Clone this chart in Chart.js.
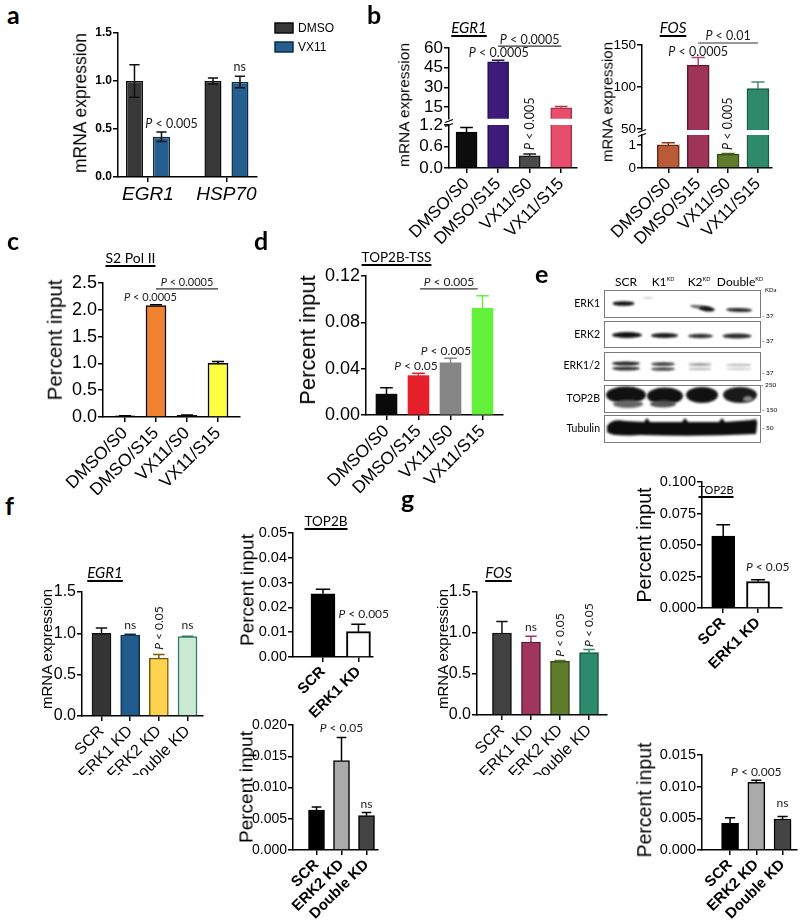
<!DOCTYPE html>
<html>
<head>
<meta charset="utf-8">
<script src="https://cdn.jsdelivr.net/npm/chart.js@4.4.1/dist/chart.umd.min.js"></script>
<style>
  html, body { margin: 0; padding: 0; background: #fff; }
  #fig { position: relative; width: 800px; height: 924px; overflow: hidden; background: #fff; }
  #fig canvas { position: absolute; }
  .t { position: absolute; white-space: nowrap; line-height: 1; color: #000; }
  .t sup { font-size: 5.5px; vertical-align: 5px; line-height: 0; }
</style>
</head>
<body>
<div id="fig"></div>
<script>
// ---- DATA ----
const aGenes = ["EGR1", "HSP70"];
const aDmso = [1.0, 1.0];
const aDmsoErr = [0.17, 0.03];
const aVx11 = [0.42, 0.99];
const aVx11Err = [0.05, 0.06];
const aTicks = [0, 0.5, 1.0, 1.5];

const bConds = ["DMSO/S0", "DMSO/S15", "VX11/S0", "VX11/S15"];
const bEgr1 = [1.0, 49.5, 0.34, 14.5];
const bEgr1Err = [0.13, 1.2, 0.05, 1.0];
const bEgr1TicksHi = [15, 30, 45, 60];
const bEgr1TicksLo = [0, 0.6, 1.2];
const bFos = [1.0, 126, 0.6, 98];
const bFosErr = [0.09, 9, 0.03, 8];
const bFosTicksHi = [50, 100, 150];
const bFosTicksLo = [0, 1];

const cPol2 = [0.02, 2.08, 0.03, 1.0];
const cPol2Err = [0.005, 0.012, 0.008, 0.035];
const cTicks = [0, 0.5, 1.0, 1.5, 2.0, 2.5];

const dTop2b = [0.018, 0.034, 0.045, 0.092];
const dTop2bErr = [0.0055, 0.002, 0.004, 0.011];
const dTicks = [0, 0.04, 0.08, 0.12];

const kdConds = ["SCR", "ERK1 KD", "ERK2 KD", "Double KD"];
const pairConds = ["SCR", "ERK1 KD"];
const trioConds = ["SCR", "ERK2 KD", "Double KD"];
const mrnaTicks = [0, 0.5, 1.0, 1.5];

const fEgr1 = [1.0, 0.98, 0.70, 0.96];
const fEgr1Err = [0.065, 0.01, 0.045, 0.005];
const fTop2bK1 = [0.0255, 0.0102];
const fTop2bK1Err = [0.0018, 0.003];
const fTop2bK1Ticks = [0, 0.01, 0.02, 0.03, 0.04, 0.05];
const fTop2bK2 = [0.0064, 0.0143, 0.0055];
const fTop2bK2Err = [0.0005, 0.0037, 0.0005];
const fTop2bK2Ticks = [0, 0.005, 0.010, 0.015, 0.020];

const gFos = [1.0, 0.89, 0.655, 0.76];
const gFosErr = [0.14, 0.07, 0.01, 0.04];
const gTop2bK1 = [0.057, 0.021];
const gTop2bK1Err = [0.009, 0.0015];
const gTop2bK1Ticks = [0, 0.025, 0.050, 0.075, 0.100];
const gTop2bK2 = [0.0042, 0.0107, 0.0049];
const gTop2bK2Err = [0.0009, 0.0003, 0.0004];
const gTop2bK2Ticks = [0, 0.005, 0.010, 0.015];

const blotLanes = ["SCR", "K1", "K2", "Double"];
const blotRows = ["ERK1", "ERK2", "ERK1/2", "TOP2B", "Tubulin"];

// ---- SETUP ----
Chart.defaults.font.family = "'Liberation Sans', Arial, sans-serif";
Chart.defaults.color = '#000';
const fig = document.getElementById('fig');

// text with italic "P"
function pText(ctx, s, x, y, size, align) {
  const parts = s.startsWith('P ') ? [['italic ', 'P'], ['', s.slice(1)]] : [['', s]];
  let w = 0;
  parts.forEach(p => { ctx.font = p[0] + size + 'px Lato'; p.w = ctx.measureText(p[1]).width; w += p.w; });
  let cx = align === 'center' ? x - w / 2 : x;
  ctx.textAlign = 'left';
  parts.forEach(p => { ctx.font = p[0] + size + 'px Lato'; ctx.fillText(p[1], cx, y); cx += p.w; });
}

// error bars, p-values, axis breaks, legend
const extras = {
  id: 'extras',
  afterDatasetsDraw(chart) {
    const o = chart.options.plugins.extras || {};
    const ctx = chart.ctx, a = chart.chartArea, xs = chart.scales.x, ys = chart.scales.y;

    ctx.save();
    ctx.beginPath();
    ctx.rect(a.left - 20, a.top - 1, a.right - a.left + 40, a.bottom - a.top + 1);
    ctx.clip();
    chart.data.datasets.forEach((ds, k) => {
      const meta = chart.getDatasetMeta(k);
      meta.data.forEach((bar, i) => {
        const v = ds.data[i].y, e = ds.errs[i];
        const col = Array.isArray(ds.errColor) ? ds.errColor[i] : ds.errColor;
        const yt = ys.getPixelForValue(v + e);
        const yb = ys.getPixelForValue(o.both ? v - e : v);
        const hw = bar.width * 0.3;
        ctx.strokeStyle = col;
        ctx.lineWidth = 1.5;
        ctx.beginPath();
        ctx.moveTo(bar.x, yb); ctx.lineTo(bar.x, yt);
        ctx.moveTo(bar.x - hw, yt); ctx.lineTo(bar.x + hw, yt);
        if (o.both) { ctx.moveTo(bar.x - hw, yb); ctx.lineTo(bar.x + hw, yb); }
        ctx.stroke();
      });
    });
    ctx.restore();

    ctx.save();
    ctx.fillStyle = '#1a1a1a';
    (o.notes || []).forEach(n => {
      const x = xs.getPixelForValue(n.x), y = ys.getPixelForValue(n.y);
      ctx.save();
      ctx.translate(x, y);
      if (n.rot) {
        ctx.rotate(-Math.PI / 2);
        ctx.textBaseline = 'middle';
        pText(ctx, n.text, 0, 0, o.noteSize, 'left');
      } else {
        ctx.textBaseline = 'alphabetic';
        pText(ctx, n.text, 0, 0, o.noteSize, 'center');
      }
      ctx.restore();
    });
    (o.brackets || []).forEach(b => {
      const x1 = xs.getPixelForValue(b.from), x2 = xs.getPixelForValue(b.to), y = ys.getPixelForValue(b.y);
      ctx.strokeStyle = '#333';
      ctx.lineWidth = 1.2;
      ctx.beginPath(); ctx.moveTo(x1, y); ctx.lineTo(x2, y); ctx.stroke();
      ctx.textBaseline = 'alphabetic';
      pText(ctx, b.text, (x1 + x2) / 2, y - 2.5, o.noteSize, 'center');
    });

    if (o.brk) {
      ctx.strokeStyle = '#000';
      ctx.lineWidth = 1.3;
      ctx.beginPath();
      ctx.moveTo(a.left - 4, a.top + 1.5); ctx.lineTo(a.left + 4, a.top - 1.5);
      ctx.moveTo(a.left - 4, a.top - 2.5); ctx.lineTo(a.left + 4, a.top - 5.5);
      ctx.stroke();
    }

    if (o.legend) {
      chart.data.datasets.forEach((ds, k) => {
        const x = o.legend.x, y = o.legend.y + k * o.legend.gap;
        ctx.fillStyle = ds.backgroundColor;
        ctx.fillRect(x, y, 18, 10);
        ctx.strokeStyle = ds.borderColor;
        ctx.lineWidth = 1.5;
        ctx.strokeRect(x, y, 18, 10);
        ctx.fillStyle = '#000';
        ctx.font = "12px 'Liberation Sans'";
        ctx.textAlign = 'left';
        ctx.textBaseline = 'middle';
        ctx.fillText(ds.label, x + 23, y + 5.5);
      });
    }
    ctx.restore();
  }
};

function barChart(o) {
  const [L, T, W, H] = o.box, [x0, y0, x1, y1] = o.area;
  const cv = document.createElement('canvas');
  cv.width = W; cv.height = H;
  cv.style.left = L + 'px';
  cv.style.top = T + 'px';
  fig.appendChild(cv);
  if (o.extras.legend) { o.extras.legend.x -= L; o.extras.legend.y -= T; }

  const tickLine = { drawOnChartArea: false, drawTicks: true, tickLength: 5, color: '#000', lineWidth: 1.5, offset: false };
  const sets = o.sets.map(s => ({
    label: s.label,
    data: s.values.map((v, i) => ({ x: i, y: v })),
    errs: s.errs,
    backgroundColor: s.fill,
    borderColor: s.line,
    borderWidth: s.lw === undefined ? 1.5 : s.lw,
    errColor: s.err || s.line,
    borderSkipped: 'start',
    clip: 0,
    barThickness: o.barW,
    categoryPercentage: o.cat || 0.8,
    barPercentage: o.bar || 0.9
  }));

  return new Chart(cv, {
    type: 'bar',
    data: { datasets: sets },
    options: {
      responsive: false,
      animation: false,
      devicePixelRatio: 1,
      layout: { padding: { left: 0, top: y0 - T, right: L + W - x1, bottom: o.hideX ? T + H - y1 : 0 } },
      scales: {
        x: {
          type: 'linear', display: !o.hideX, min: o.xmin, max: o.xmax, offset: false,
          afterBuildTicks: s => { s.ticks = o.labels.map((_, i) => ({ value: i })); },
          afterFit: s => { if (!o.hideX) s.height = T + H - y1; },
          grid: tickLine,
          border: { color: '#000', width: 1.5 },
          ticks: { autoSkip: false, minRotation: o.rot, maxRotation: o.rot, padding: 1, font: o.xFont, color: '#000',
                   callback: v => o.labels[v] }
        },
        y: {
          min: o.ymin, max: o.ymax,
          afterBuildTicks: s => { s.ticks = o.yTicks.map(v => ({ value: v })); },
          afterFit: s => { s.width = x0 - L; },
          grid: tickLine,
          border: { color: '#000', width: 1.5 },
          ticks: { autoSkip: false, padding: 1, font: o.yFont, color: '#000', callback: o.fmt }
        }
      },
      plugins: { legend: { display: false }, tooltip: { enabled: false }, extras: o.extras }
    },
    plugins: [extras]
  });
}

// ---- HTML TEXT ----
function txt(s, x, base, size, fam, extra, anchor) {
  const d = document.createElement('div');
  d.className = 't';
  d.innerHTML = s;
  const k = fam === 'Lato' ? 0.887 : 0.846;
  d.style.left = x + 'px';
  d.style.top = (base - k * size) + 'px';
  d.style.fontSize = size + 'px';
  d.style.fontFamily = fam;
  if (extra) d.style.cssText += extra;
  if (anchor === 'c') d.style.transform = 'translateX(-50%)';
  if (anchor === 'r') d.style.transform = 'translateX(-100%)';
  fig.appendChild(d);
}
function ytitle(s, cx, cy, size) {
  const d = document.createElement('div');
  d.className = 't';
  d.textContent = s;
  d.style.cssText += `left:${cx}px;top:${cy}px;font-size:${size}px;font-family:'Liberation Sans';` +
    'transform:translate(-50%,-50%) rotate(-90deg)';
  fig.appendChild(d);
}
const UL = 'text-decoration:underline;text-decoration-thickness:1.5px;text-underline-offset:2px;';

// ---- PANEL a ----
barChart({
  box: [60, 8, 300, 200], area: [118, 33, 257, 177],
  labels: aGenes, xmin: -0.382, xmax: 1.389, rot: 0,
  xFont: { size: 19, style: 'italic' }, yFont: { size: 12, weight: 'bold' },
  ymin: 0, ymax: 1.5, yTicks: aTicks, fmt: v => v.toFixed(1),
  cat: 0.688, bar: 0.63,
  sets: [
    { label: 'DMSO', values: aDmso, errs: aDmsoErr, fill: '#383838', line: '#0b0b0b', err: '#111' },
    { label: 'VX11', values: aVx11, errs: aVx11Err, fill: '#245f8f', line: '#0f2c47', err: '#111' }
  ],
  extras: { both: true, noteSize: 12.5,
    notes: [{ x: 0.3, y: 0.51, text: 'P < 0.005' }, { x: 1.17, y: 1.10, text: 'ns' }],
    legend: { x: 275, y: 23, gap: 19 } }
});
ytitle('mRNA expression', 80.5, 103, 17.5);

// ---- PANEL b ----
const bEgr1Base = {
  labels: bConds, xmin: -0.556, xmax: 3.5, rot: 45, barW: 21,
  xFont: { size: 17 }, yFont: { size: 17 },
  sets: [{ values: bEgr1, errs: bEgr1Err,
    fill: ['#0d0d0d', '#3c1b7a', '#4a4a4a', '#e94d6c'],
    line: ['#000', '#22104a', '#1a1a1a', '#b0304a'] }]
};
barChart({ ...bEgr1Base, box: [390, 18, 200, 112], area: [449, 48, 577, 121], hideX: true,
  ymin: 6.15, ymax: 60, yTicks: bEgr1TicksHi, fmt: v => v,
  extras: { noteSize: 12.5,
    brackets: [{ from: 1, to: 3, y: 61.5, text: 'P < 0.0005' }],
    notes: [{ x: 1.02, y: 53, text: 'P < 0.0005' }] } });
barChart({ ...bEgr1Base, box: [390, 90, 200, 155], area: [449, 125, 577, 168],
  ymin: 0, ymax: 1.2, yTicks: bEgr1TicksLo, fmt: v => v.toFixed(1),
  extras: { noteSize: 12.5, brk: true, notes: [{ x: 2, y: 0.5, text: 'P < 0.005', rot: true }] } });
ytitle('mRNA expression', 404, 105, 15.5);
txt('EGR1', 469, 33, 15, 'Lato', UL + 'font-style:italic;', 'c');

const bFosBase = {
  labels: bConds, xmin: -0.88, xmax: 3.47, rot: 45, barW: 22,
  xFont: { size: 17 }, yFont: { size: 13.5 },
  sets: [{ values: bFos, errs: bFosErr,
    fill: ['#b95b36', '#9e3559', '#5e7c29', '#2f8a6b'],
    line: ['#6a2e18', '#5e1a32', '#33491a', '#175a43'],
    err: ['#8a3a20', '#b04a70', '#4a6a20', '#4a8a78'] }]
};
barChart({ ...bFosBase, box: [595, 18, 195, 122], area: [642, 45, 772, 130], hideX: true,
  ymin: 48.8, ymax: 150, yTicks: bFosTicksHi, fmt: v => v,
  extras: { noteSize: 12.5,
    brackets: [{ from: 1, to: 3, y: 152.4, text: 'P < 0.01' }],
    notes: [{ x: 1, y: 137, text: 'P < 0.0005' }] } });
barChart({ ...bFosBase, box: [595, 90, 195, 155], area: [642, 135, 772, 168],
  ymin: 0, ymax: 1.43, yTicks: bFosTicksLo, fmt: v => v,
  extras: { noteSize: 12.5, brk: true, notes: [{ x: 2, y: 0.78, text: 'P < 0.005', rot: true }] } });
ytitle('mRNA expression', 607, 102, 15);
txt('FOS', 673, 33, 15, 'Lato', UL + 'font-style:italic;', 'c');

// ---- PANEL c ----
barChart({
  box: [40, 265, 220, 230], area: [103, 283, 240, 417],
  labels: bConds, xmin: -0.71, xmax: 3.71, rot: 45, barW: 20,
  xFont: { size: 17.5 }, yFont: { size: 18 },
  ymin: 0, ymax: 2.5, yTicks: cTicks, fmt: v => v.toFixed(1),
  sets: [{ values: cPol2, errs: cPol2Err, fill: ['#111', '#f08232', '#333', '#ffff44'], line: '#000' }],
  extras: { noteSize: 11,
    brackets: [{ from: 1, to: 3, y: 2.39, text: 'P < 0.0005' }],
    notes: [{ x: 0.82, y: 2.16, text: 'P < 0.0005' }] }
});
ytitle('Percent input', 55, 340, 20.5);
txt('S2 Pol II', 130.5, 263, 14, 'Lato', UL, 'c');

// ---- PANEL d ----
barChart({
  box: [300, 255, 220, 240], area: [366, 276, 503, 415],
  labels: bConds, xmin: -0.64, xmax: 3.64, rot: 45, barW: 21,
  xFont: { size: 17.5 }, yFont: { size: 18 },
  ymin: 0, ymax: 0.12, yTicks: dTicks, fmt: v => v.toFixed(2),
  sets: [{ values: dTop2b, errs: dTop2bErr, fill: ['#0a0a0a', '#e6202a', '#858585', '#62f03a'],
    line: ['#0a0a0a', '#e6202a', '#858585', '#62f03a'], lw: 0 }],
  extras: { noteSize: 12,
    brackets: [{ from: 1.05, to: 2.85, y: 0.1088, text: 'P < 0.005' }],
    notes: [{ x: 1.86, y: 0.052, text: 'P < 0.005' }, { x: 0.92, y: 0.039, text: 'P < 0.05' }] }
});
ytitle('Percent input', 308, 340, 22);
txt('TOP2B-TSS', 396.5, 263, 13.5, 'Lato', UL, 'c');

// ---- PANEL f ----
barChart({
  box: [30, 575, 190, 200], area: [82, 592, 203, 716],
  labels: kdConds, xmin: -0.68, xmax: 3.54, rot: 45, barW: 19,
  xFont: { size: 16 }, yFont: { size: 16 },
  ymin: 0, ymax: 1.5, yTicks: mrnaTicks, fmt: v => v.toFixed(1),
  sets: [{ values: fEgr1, errs: fEgr1Err,
    fill: ['#353535', '#215c8e', '#ffd34e', '#c9e9d3'],
    line: ['#111', '#11304d', '#7a5a10', '#2e7a62'] }],
  extras: { noteSize: 12,
    notes: [{ x: 1, y: 1.05, text: 'ns' }, { x: 3, y: 1.05, text: 'ns' }, { x: 2, y: 0.8, text: 'P < 0.05', rot: true }] }
});
ytitle('mRNA expression', 46, 649, 15);
txt('EGR1', 105, 578, 15, 'Lato', UL + 'font-style:italic;', 'c');

barChart({
  box: [215, 515, 180, 210], area: [293, 533, 373, 657],
  labels: pairConds, xmin: -0.845, xmax: 1.41, rot: 45, barW: 24,
  xFont: { size: 15, weight: 'bold' }, yFont: { size: 14.5 },
  ymin: 0, ymax: 0.05, yTicks: fTop2bK1Ticks, fmt: v => v.toFixed(2),
  sets: [{ values: fTop2bK1, errs: fTop2bK1Err, fill: ['#000', '#fff'], line: '#000', lw: 2 }],
  extras: { noteSize: 12, notes: [{ x: 1.15, y: 0.0157, text: 'P < 0.005' }] }
});
ytitle('Percent input', 247, 590, 19);
txt('TOP2B', 326, 527, 13.5, 'Lato', UL, 'c');

barChart({
  box: [215, 705, 180, 219], area: [293, 725, 378, 850],
  labels: trioConds, xmin: -0.94, xmax: 2.46, rot: 45, barW: 16,
  xFont: { size: 15, weight: 'bold' }, yFont: { size: 14 },
  ymin: 0, ymax: 0.02, yTicks: fTop2bK2Ticks, fmt: v => v.toFixed(3),
  sets: [{ values: fTop2bK2, errs: fTop2bK2Err, fill: ['#000', '#aaaaaa', '#444'], line: '#000' }],
  extras: { noteSize: 12, notes: [{ x: 1, y: 0.0189, text: 'P < 0.05' }, { x: 2, y: 0.0067, text: 'ns' }] }
});
ytitle('Percent input', 246, 787, 19);

// ---- PANEL g ----
barChart({
  box: [425, 575, 195, 200], area: [477, 592, 607, 715],
  labels: kdConds, xmin: -0.86, xmax: 3.62, rot: 45, barW: 19,
  xFont: { size: 16 }, yFont: { size: 16 },
  ymin: 0, ymax: 1.5, yTicks: mrnaTicks, fmt: v => v.toFixed(1),
  sets: [{ values: gFos, errs: gFosErr,
    fill: ['#424242', '#a0365e', '#5e7c2a', '#2e8a6c'],
    line: ['#111', '#5a1a34', '#34481a', '#155a42'],
    err: ['#111', '#a0365e', '#5e7c2a', '#2e8a6c'] }],
  extras: { noteSize: 12,
    notes: [{ x: 1, y: 1.02, text: 'ns' }, { x: 2, y: 0.71, text: 'P < 0.05', rot: true }, { x: 3, y: 0.83, text: 'P < 0.05', rot: true }] }
});
ytitle('mRNA expression', 442, 649, 15);
txt('FOS', 498.5, 578, 15, 'Lato', UL + 'font-style:italic;', 'c');

barChart({
  box: [612, 465, 183, 215], area: [702, 482, 782, 608],
  labels: pairConds, xmin: -0.61, xmax: 1.69, rot: 45, barW: 23,
  xFont: { size: 15, weight: 'bold' }, yFont: { size: 14.5 },
  ymin: 0, ymax: 0.1, yTicks: gTop2bK1Ticks, fmt: v => v.toFixed(3),
  sets: [{ values: gTop2bK1, errs: gTop2bK1Err, fill: ['#000', '#fff'], line: '#000', lw: 2 }],
  extras: { noteSize: 12, notes: [{ x: 1.28, y: 0.029, text: 'P < 0.05' }] }
});
ytitle('Percent input', 645, 545, 19.5);
txt('TOP2B', 716, 494, 11, 'Lato', UL, 'c');

barChart({
  box: [612, 735, 188, 189], area: [702, 755, 797, 850],
  labels: trioConds, xmin: -1.07, xmax: 2.55, rot: 45, barW: 17,
  xFont: { size: 15, weight: 'bold' }, yFont: { size: 14.5 },
  ymin: 0, ymax: 0.015, yTicks: gTop2bK2Ticks, fmt: v => v.toFixed(3),
  sets: [{ values: gTop2bK2, errs: gTop2bK2Err, fill: ['#000', '#aaaaaa', '#444'], line: '#000' }],
  extras: { noteSize: 12, notes: [{ x: 1, y: 0.0117, text: 'P < 0.005' }, { x: 2, y: 0.0068, text: 'ns' }] }
});
ytitle('Percent input', 645, 800, 19.5);

// ---- PANEL e (western blot, plain canvas) ----
(function blot() {
  const cv = document.createElement('canvas');
  cv.width = 260; cv.height = 180;
  cv.style.left = '540px'; cv.style.top = '268px';
  fig.appendChild(cv);
  const g = cv.getContext('2d');
  g.translate(-540, -268);
  const frames = [[290, 317], [321, 347], [352, 380], [385, 412], [415, 442]];
  g.strokeStyle = '#7a7a7a';
  g.lineWidth = 1;
  frames.forEach(([a, b]) => g.strokeRect(604.5, a + 0.5, 156, b - a));
  g.filter = 'blur(1px)';
  function band(cx, cy, rx, ry, col, rot) {
    g.fillStyle = col;
    g.beginPath();
    g.ellipse(cx, cy, rx, ry, rot || 0, 0, Math.PI * 2);
    g.fill();
  }
  // ERK1
  band(623.5, 303.5, 11, 2.3, '#111');
  band(648, 298, 5, 1.4, '#ddd');
  band(700, 307, 10, 1.8, '#666', 0.1);
  band(707, 309, 8, 2.4, '#111', 0.1);
  band(739, 310, 13, 2, '#2a2a2a', 0.03);
  // ERK2
  band(627, 335, 15, 3, '#111');
  band(664.5, 335.5, 13.5, 2.6, '#1a1a1a');
  band(700.5, 336, 12.5, 2.2, '#333');
  band(737, 336, 14.5, 2.5, '#2a2a2a');
  // ERK1/2
  band(626, 363.5, 14, 2, '#222'); band(626, 368.5, 14, 2, '#333');
  band(663, 364, 12, 1.8, '#333'); band(663, 369, 12, 1.8, '#444');
  band(700, 364.5, 12, 1.5, '#999'); band(700, 369, 12, 1.3, '#bbb');
  band(739, 365, 13, 1.3, '#bbb'); band(739, 369, 13, 1.2, '#ccc');
  // TOP2B
  band(626, 395, 20, 8.5, '#111'); band(628, 404, 15, 4, '#666');
  band(665, 396, 18, 8.5, '#111'); band(663, 404, 13, 3.5, '#555');
  band(702, 395, 16, 8, '#111');
  band(740, 395, 17, 8, '#1a1a1a'); band(748, 399, 5, 3, '#888');
  // Tubulin
  g.fillStyle = '#0d0d0d';
  g.beginPath();
  g.moveTo(607, 426);
  g.quadraticCurveTo(612, 418, 625, 421);
  g.lineTo(644, 422); g.lineTo(647, 418); g.lineTo(650, 422);
  g.lineTo(682, 422); g.lineTo(685, 418); g.lineTo(688, 422);
  g.lineTo(719, 422); g.lineTo(722, 418); g.lineTo(725, 422);
  g.lineTo(752, 420); g.quadraticCurveTo(758, 417, 757, 425);
  g.lineTo(756, 434); g.quadraticCurveTo(700, 437, 640, 435);
  g.quadraticCurveTo(612, 437, 607, 432);
  g.closePath();
  g.fill();
  g.filter = 'none';
})();

txt(blotLanes[0], 626, 287, 12, 'Lato', '', 'c');
txt(blotLanes[1] + '<sup>KD</sup>', 663, 287, 12, 'Lato', '', 'c');
txt(blotLanes[2] + '<sup>KD</sup>', 699, 287, 12, 'Lato', '', 'c');
txt(blotLanes[3] + '<sup>KD</sup>', 740, 287, 12, 'Lato', '', 'c');
[307, 338, 369, 402, 432].forEach((y, i) => txt(blotRows[i], 600, y, 10.5, 'Lato', '', 'r'));
txt('KDa', 765, 292, 6, 'Lato');
txt('- 37', 762, 319, 6.5, 'Lato');
txt('- 37', 762, 344, 6.5, 'Lato');
txt('- 37', 762, 376, 6.5, 'Lato');
txt('- 250', 761, 388, 6.5, 'Lato');
txt('- 150', 762, 413, 6.5, 'Lato');
txt('- 50', 762, 431, 6.5, 'Lato');

// ---- PANEL LETTERS ----
[['a', 7, 24], ['b', 367, 24], ['c', 7, 250], ['d', 254, 250], ['e', 535, 283], ['f', 5, 515], ['g', 401, 508]]
  .forEach(([s, x, y]) => txt(s, x, y, 25, 'Lato', 'font-weight:bold;'));
</script>
</body>
</html>
